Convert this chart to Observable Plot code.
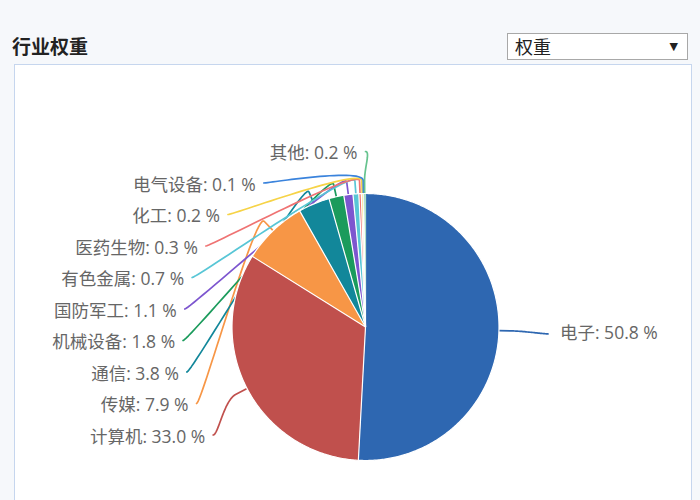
<!DOCTYPE html>
<html>
<head>
<meta charset="utf-8">
<script src="https://cdn.jsdelivr.net/npm/d3@7"></script>
<script src="https://cdn.jsdelivr.net/npm/@observablehq/plot@0.6"></script>
<style>
  html, body { margin: 0; padding: 0; }
  body { width: 700px; height: 500px; overflow: hidden; background: #f6f8fb; position: relative;
         font-family: "Open Sans", "Noto Sans CJK SC", sans-serif; }
  #title { position: absolute; left: 12px; top: 32px; font-size: 19px; font-weight: bold; color: #222;
           font-family: "Noto Sans CJK SC", sans-serif; line-height: 28px; }
  #select { position: absolute; left: 507px; top: 33px; width: 179px; height: 25px; background: #fff;
            border: 1px solid #a8a8a8; font-size: 18px; color: #222; line-height: 25px;
            font-family: "Noto Sans CJK SC", sans-serif; }
  #select span.t { position: absolute; left: 7px; top: 0; }
  #select span.a { position: absolute; right: 9px; top: 0; font-size: 11px; font-family: "DejaVu Sans", sans-serif; }
  #panel { position: absolute; left: 14px; top: 64px; width: 676px; height: 450px; background: #fff;
           border: 1px solid #c6d6ee; }
  #panel svg { display: block; overflow: visible; }
</style>
</head>
<body>
<div id="title">行业权重</div>
<div id="select"><span class="t">权重</span><span class="a">▼</span></div>
<div id="panel"></div>
<script>
// ---- data ----
const categories = ["电子", "计算机", "传媒", "通信", "机械设备", "国防军工", "有色金属", "医药生物", "化工", "电气设备", "其他"];
const weights = [50.8, 33.0, 7.9, 3.8, 1.8, 1.1, 0.7, 0.3, 0.2, 0.1, 0.2];
const colors = ["#2e67b1", "#c0504d", "#f79646", "#12879a", "#1b9b5c", "#7d56cf", "#58c6d6", "#ef7373", "#f6d347", "#3a83dc", "#66c38e"];

// ---- layout ----
const W = 676, H = 436;
const cx = 350, cy = 261.5, R = 133.5;
const labelR = 182.5, breakOff = 13, gap = 31.5, topLimit = cy - R - 40;

const arcs = d3.pie().sort(null).value(d => d.value).startAngle(0).endAngle(2 * Math.PI)(
  categories.map((name, i) => ({name, value: weights[i]}))
);
const pt = (a, r) => [cx + r * Math.sin(a), cy - r * Math.cos(a)];

// slice polygons
const slicePts = [];
for (const a of arcs) {
  const n = Math.max(2, Math.ceil((a.endAngle - a.startAngle) / 0.01));
  slicePts.push({name: a.data.name, x: cx, y: cy});
  for (let k = 0; k <= n; k++) {
    const t = a.startAngle + (a.endAngle - a.startAngle) * k / n;
    const [x, y] = pt(t, R);
    slicePts.push({name: a.data.name, x, y});
  }
}

// label positions (left side stacked downward)
const items = arcs.map(a => {
  const mid = (a.startAngle + a.endAngle) / 2;
  return {name: a.data.name, value: a.data.value, mid, left: Math.sin(mid) < 0,
          natural: cy - Math.cos(mid) * labelR};
});
const leftItems = items.filter(d => d.left).sort((a, b) => b.mid - a.mid);
let prev = -Infinity;
for (const d of leftItems) {
  d.ly = Math.max(d.natural, topLimit, prev + gap);
  prev = d.ly;
}
for (const d of items.filter(d => !d.left)) d.ly = d.natural + 2;

const getX = (y, left) => {
  const dy = y - 9.5 - cy;
  const dx = Math.sqrt(Math.max(0, labelR * labelR - dy * dy));
  return left ? cx - dx : cx + dx;
};

const connPts = [];
const labels = [];
for (const d of items) {
  const ex = getX(d.ly, d.left), ey = d.left ? d.ly - 2 : d.ly;
  const touch = pt(d.mid, R), brk = pt(d.mid, R + breakOff);
  const P0 = [ex, ey], P1 = [ex + (d.left ? 5 : -5), ey];
  const P2 = [2 * brk[0] - touch[0], 2 * brk[1] - touch[1]], P3 = brk;
  const steps = 30;
  for (let k = 0; k <= steps; k++) {
    const t = k / steps, u = 1 - t;
    const x = u*u*u*P0[0] + 3*u*u*t*P1[0] + 3*u*t*t*P2[0] + t*t*t*P3[0];
    const y = u*u*u*P0[1] + 3*u*u*t*P1[1] + 3*u*t*t*P2[1] + t*t*t*P3[1];
    connPts.push({name: d.name, x, y});
  }
  connPts.push({name: d.name, x: touch[0], y: touch[1]});
  labels.push({name: d.name, text: `${d.name}: ${d.value.toFixed(1)} %`,
               x: d.left ? ex - 8 : ex + 12, y: d.ly, anchor: d.left ? "end" : "start"});
}

const font = "'Open Sans', 'Noto Sans CJK SC', sans-serif";
const chart = Plot.plot({
  width: W, height: H,
  marginTop: 0, marginRight: 0, marginBottom: 0, marginLeft: 0,
  x: {domain: [0, W], range: [0, W], axis: null},
  y: {domain: [0, H], range: [0, H], axis: null},
  color: {domain: categories, range: colors},
  style: {background: "transparent", overflow: "visible"},
  marks: [
    Plot.line(connPts, {x: "x", y: "y", z: "name", stroke: "name", strokeWidth: 1.7, fill: "none"}),
    Plot.line(slicePts, {x: "x", y: "y", z: "name", fill: "name", stroke: "white", strokeWidth: 1.2, strokeLinejoin: "round"}),
    Plot.text(labels.filter(d => d.anchor === "end"), {x: "x", y: "y", text: "text", textAnchor: "end",
      fill: "#666", fontSize: 17.5, fontFamily: font}),
    Plot.text(labels.filter(d => d.anchor === "start"), {x: "x", y: "y", text: "text", textAnchor: "start",
      fill: "#666", fontSize: 17.5, fontFamily: font})
  ]
});
document.getElementById("panel").appendChild(chart);
</script>
</body>
</html>
